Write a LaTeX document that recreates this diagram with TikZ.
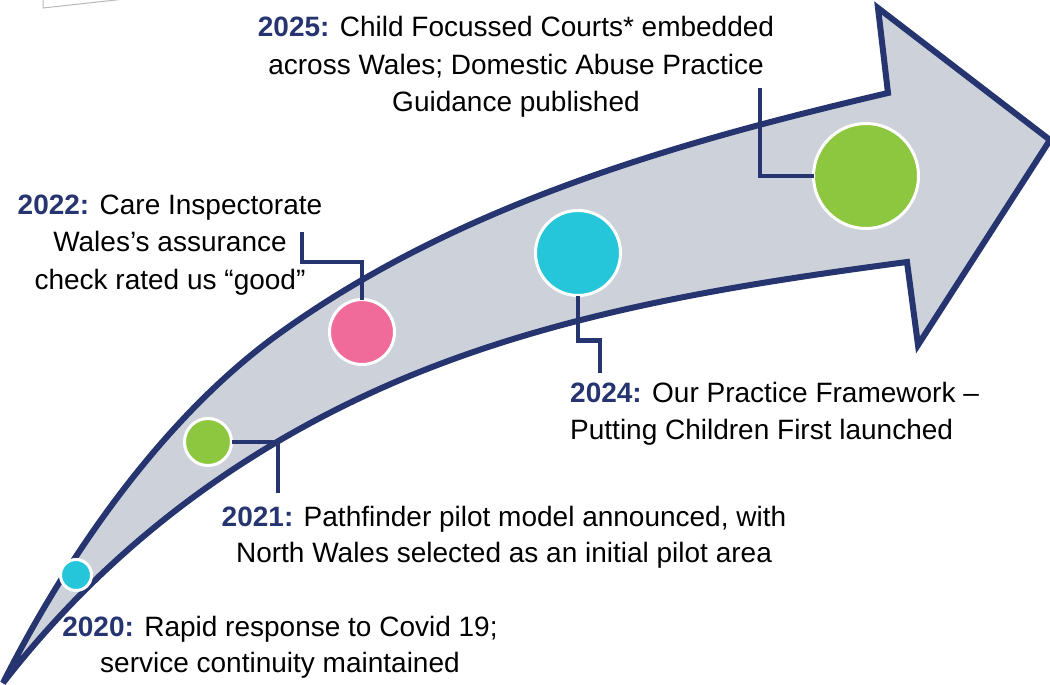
\documentclass[tikz,border=0pt]{standalone}
\usepackage{fontspec}
\setmainfont{Liberation Sans}
\definecolor{navy}{HTML}{263470}
\definecolor{arrowfill}{HTML}{CDD2DA}
\definecolor{ccyan}{HTML}{26C6DA}
\definecolor{cgreen}{HTML}{8DC63F}
\definecolor{cpink}{HTML}{F06B9A}
\newcommand\yearlbl[1]{\textcolor{navy}{\textbf{#1}}}
\begin{document}
\begin{tikzpicture}[x=1pt,y=-1pt,
  conn/.style={draw=navy,line width=4.5pt,line join=miter},
  dot/.style={circle,draw=white,line width=3pt,inner sep=0pt,outer sep=0pt},
  lbl/.style={font=\fontsize{28}{37.5}\selectfont,align=center,inner sep=0pt,text=black}]
\useasboundingbox (0,0) rectangle (1050,685);
\clip (0,0) rectangle (1050,685);
% page fragment top-left
\path[fill=white,draw=gray!55,line width=1pt] (43,-3) -- (43,8) -- (125,-1) -- (125,-3) -- cycle;
% big arrow
\path[fill=arrowfill,draw=navy,line width=6pt,line join=miter]
  (3,683) .. controls (70,550) and (167,414) .. (280,333)
  .. controls (458,205) and (674,143) .. (888,93)
  -- (878,8) -- (1050,140) -- (918,345) -- (907,262)
  .. controls (734,285) and (561,312) .. (400,380)
  .. controls (240,448) and (107,549) .. (3,683)
  -- cycle;
% circles
\node[dot,fill=ccyan,minimum size=31pt] (c2020) at (76,575) {};
\node[dot,fill=cgreen,minimum size=47pt] (c2021) at (208,442) {};
\node[dot,fill=cpink,minimum size=65pt] (c2022) at (362,332) {};
\node[dot,fill=ccyan,minimum size=85pt] (c2024) at (578,253) {};
\node[dot,fill=cgreen,minimum size=105pt] (c2025) at (866,176) {};
% connector ends
\coordinate (k2025) at (760,88);
\coordinate (k2022) at (302,232);
\coordinate (k2024) at (600,373);
\coordinate (k2021) at (278,493);
% connectors
\draw[conn] (k2025) |- (c2025.west);
\draw[conn] (k2022) -- ++(0,30) -| (c2022.north);
\draw[conn] (c2024.south) -- ++(0,45) -| (k2024);
\draw[conn] (c2021.east) -| (k2021);
% labels
\node[lbl] (t2025) at (516,67) {\yearlbl{2025:} Child Focussed Courts* embedded\\across Wales; Domestic Abuse Practice\\Guidance published};
\node[lbl] (t2022) at (170,245) {\yearlbl{2022:} Care Inspectorate\\Wales’s assurance\\check rated us “good”};
\node[lbl,align=left,anchor=west] (t2024) at (570,414) {\yearlbl{2024:} Our Practice Framework –\\Putting Children First launched};
\node[lbl,font=\fontsize{28}{36}\selectfont] (t2021) at (504,537) {\yearlbl{2021:} Pathfinder pilot model announced, with\\North Wales selected as an initial pilot area};
\node[lbl,font=\fontsize{28}{36}\selectfont] (t2020) at (280,647) {\yearlbl{2020:} Rapid response to Covid 19;\\service continuity maintained};
\end{tikzpicture}
\end{document}
